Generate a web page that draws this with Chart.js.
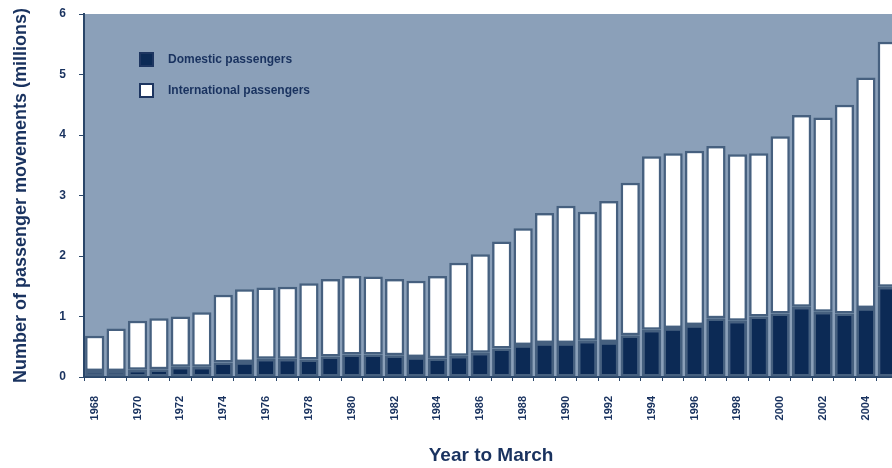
<!DOCTYPE html>
<html>
<head>
<meta charset="utf-8">
<script src="https://cdn.jsdelivr.net/npm/chart.js@4.4.0/dist/chart.umd.min.js"></script>
<style>
  html, body { margin: 0; padding: 0; background: #ffffff; overflow: hidden; }
  .chart-wrap { position: relative; width: 898px; height: 468px; }
</style>
</head>
<body>
<div class="chart-wrap"><canvas id="passengerChart"></canvas></div>
<script>
// year to March, 1968 - 2005
const years = [
  1968, 1969, 1970, 1971, 1972, 1973, 1974, 1975, 1976, 1977,
  1978, 1979, 1980, 1981, 1982, 1983, 1984, 1985, 1986, 1987,
  1988, 1989, 1990, 1991, 1992, 1993, 1994, 1995, 1996, 1997,
  1998, 1999, 2000, 2001, 2002, 2003, 2004, 2005
];

// millions of movements
const domestic = [
  0.10, 0.10, 0.12, 0.13, 0.17, 0.17, 0.24, 0.25, 0.30, 0.30,
  0.29, 0.34, 0.37, 0.37, 0.36, 0.33, 0.31, 0.35, 0.40, 0.47,
  0.53, 0.56, 0.56, 0.60, 0.58, 0.69, 0.78, 0.81, 0.86, 0.97,
  0.93, 1.00, 1.05, 1.16, 1.08, 1.05, 1.14, 1.49
];
const totals = [
  0.68, 0.80, 0.93, 0.97, 1.00, 1.07, 1.36, 1.45, 1.48, 1.49,
  1.55, 1.62, 1.67, 1.66, 1.62, 1.59, 1.67, 1.89, 2.03, 2.24,
  2.46, 2.71, 2.83, 2.73, 2.91, 3.21, 3.65, 3.70, 3.74, 3.82,
  3.68, 3.70, 3.98, 4.33, 4.29, 4.50, 4.95, 5.54
];
const international = totals.map((t, i) => +(t - domestic[i]).toFixed(2));

const yTicks = [0, 1, 2, 3, 4, 5, 6];

const navy = "#0c2a55";
const textBlue = "#19325f";
const axisBlue = "#2a4669";
const barEdge = "#46607f";
const plotBg = "#8ba0b9";

const fontFamily = "'Liberation Sans', Arial, sans-serif";

// fill the plot area
const plotBackground = {
  id: "plotBackground",
  beforeDraw(chart) {
    const { ctx, chartArea } = chart;
    ctx.save();
    ctx.fillStyle = plotBg;
    ctx.fillRect(chartArea.left, chartArea.top, chartArea.right - chartArea.left, chartArea.bottom - chartArea.top);
    ctx.restore();
  }
};

// two-row key inside the top left of the plot
const insideLegend = {
  id: "insideLegend",
  afterDatasetsDraw(chart) {
    const { ctx, chartArea } = chart;
    const x = chartArea.left + 56;
    let y = chartArea.top + 45;
    ctx.save();
    ctx.font = "bold 12px " + fontFamily;
    ctx.textBaseline = "middle";
    chart.data.datasets.forEach((ds) => {
      ctx.fillStyle = ds.backgroundColor;
      ctx.fillRect(x, y - 6, 13, 13);
      ctx.lineWidth = 2;
      ctx.strokeStyle = "#1d3560";
      ctx.strokeRect(x, y - 6, 13, 13);
      ctx.fillStyle = textBlue;
      ctx.fillText(ds.label, x + 28, y + 1);
      y += 31;
    });
    ctx.restore();
  }
};

const ctx = document.getElementById("passengerChart");

new Chart(ctx, {
  type: "bar",
  data: {
    labels: years,
    datasets: [
      {
        label: "Domestic passengers",
        data: domestic,
        backgroundColor: navy,
        borderColor: barEdge,
        borderWidth: 2.5,
        borderSkipped: false
      },
      {
        label: "International passengers",
        data: international,
        backgroundColor: "#ffffff",
        borderColor: barEdge,
        borderWidth: 2.5,
        borderSkipped: false
      }
    ]
  },
  options: {
    responsive: true,
    maintainAspectRatio: false,
    animation: false,
    layout: { padding: { top: 14, right: 0, bottom: 0, left: 0 } },
    datasets: {
      bar: { categoryPercentage: 1, barPercentage: 0.9 }
    },
    plugins: {
      legend: { display: false },
      tooltip: { enabled: false }
    },
    scales: {
      x: {
        stacked: true,
        afterFit(scale) {
          scale.height = 91;
          scale.paddingLeft = 0;
          scale.paddingRight = 0;
        },
        grid: {
          drawOnChartArea: false,
          drawTicks: true,
          tickLength: 4,
          color: axisBlue
        },
        border: { display: true, color: axisBlue, width: 2 },
        ticks: {
          autoSkip: false,
          minRotation: 90,
          maxRotation: 90,
          padding: 15,
          color: textBlue,
          font: { family: fontFamily, size: 11, weight: "bold" },
          callback(value, index) {
            const yr = years[index];
            return yr % 2 === 0 ? String(yr) : "";
          }
        },
        title: {
          display: true,
          text: "Year to March",
          color: textBlue,
          padding: { top: 0, bottom: 1 },
          font: { family: fontFamily, size: 19, weight: "bold" }
        }
      },
      y: {
        stacked: true,
        min: 0,
        max: 6,
        afterFit(scale) {
          scale.width = 84;
          scale.paddingTop = 0;
          scale.paddingBottom = 0;
        },
        afterBuildTicks(scale) {
          scale.ticks = yTicks.map((v) => ({ value: v }));
        },
        grid: {
          drawOnChartArea: false,
          drawTicks: true,
          tickLength: 5,
          color: axisBlue
        },
        border: { display: true, color: axisBlue, width: 2 },
        ticks: {
          padding: 13,
          color: textBlue,
          font: { family: fontFamily, size: 12, weight: "bold" }
        },
        title: {
          display: true,
          text: "Number of passenger movements (millions)",
          color: textBlue,
          padding: { top: 10, bottom: 0 },
          font: { family: fontFamily, size: 18, weight: "bold" }
        }
      }
    }
  },
  plugins: [plotBackground, insideLegend]
});
</script>
</body>
</html>
